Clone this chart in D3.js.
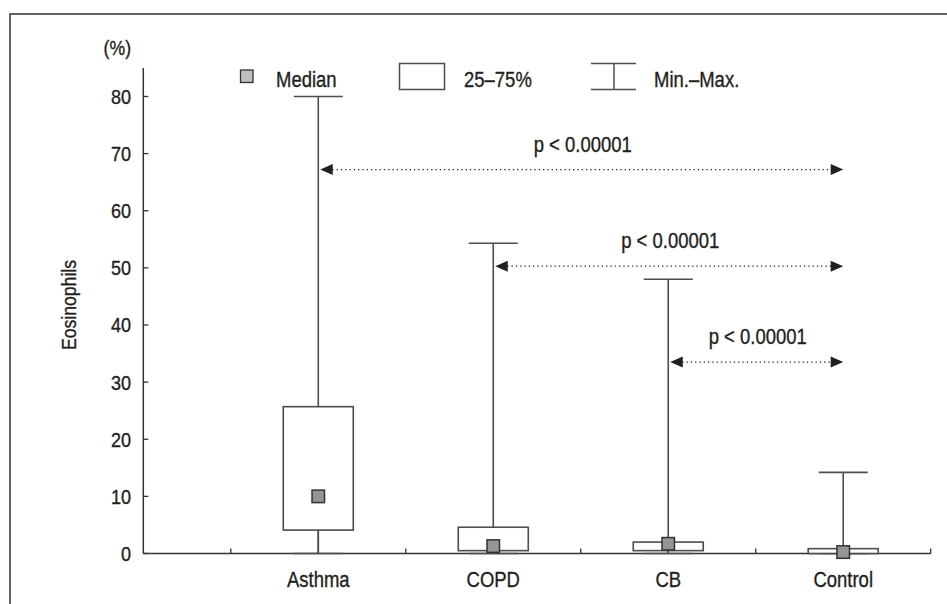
<!DOCTYPE html>
<html><head><meta charset="utf-8">
<script src="https://cdn.jsdelivr.net/npm/d3@7"></script>
<style>
html,body{margin:0;padding:0;background:#fff;}
text{font-family:"Liberation Sans Narrow","Liberation Sans",Arial,sans-serif;fill:#231f20;stroke:#231f20;stroke-width:0.35px;}
</style></head>
<body><svg id="c" width="947" height="604"></svg>
<script>
const categories = ["Asthma","COPD","CB","Control"];
const minVals    = [0, 0, 0, 0];
const q1Vals     = [4.1, 0.5, 0.5, 0];
const medianVals = [10.0, 1.3, 1.7, 0.25];
const q3Vals     = [25.7, 4.6, 2.0, 0.85];
const maxVals    = [80, 54.3, 48, 14.2];
const yTicks     = [0,10,20,30,40,50,60,70,80];
const comparisons = [
  {from:"Asthma", to:"Control", y:67.2, label:"p < 0.00001"},
  {from:"COPD",   to:"Control", y:50.3, label:"p < 0.00001"},
  {from:"CB",     to:"Control", y:33.5, label:"p < 0.00001"}
];
const legendLabels = ["Median","25–75%","Min.–Max."];

const svg = d3.select("#c");
const FS = 21.5, SX = 0.86;
const lineCol = "#4d4d4f", axisCol = "#333";

function txt(parent, x, y, s, anchor, size, rot){
  return parent.append("text")
    .attr("transform", `translate(${x},${y})` + (rot ? ` rotate(${rot})` : "") + ` scale(${SX},1)`)
    .attr("text-anchor", anchor || "start")
    .attr("font-size", size || FS)
    .text(s);
}

// frame
svg.append("rect").attr("x",10).attr("y",14).attr("width",960).attr("height",620)
  .attr("fill","none").attr("stroke",axisCol).attr("stroke-width",1.5);

const y = d3.scaleLinear().domain([0,85]).range([553.5, 67.9]);
const x = d3.scaleLinear().domain([0,4.5]).range([143.3, 930.7]);
const cx = c => x(categories.indexOf(c)+1);

// y axis
const ya = svg.append("g");
ya.append("line").attr("x1",x(0)).attr("x2",x(0)).attr("y1",y(0)).attr("y2",y(85))
  .attr("stroke",axisCol).attr("stroke-width",1.5);
yTicks.forEach(t=>{
  ya.append("line").attr("x1",x(0)).attr("x2",x(0)+5).attr("y1",y(t)).attr("y2",y(t))
    .attr("stroke",axisCol).attr("stroke-width",1.3);
  txt(ya, 131, y(t)+7.5, t, "end", 21);
});
txt(svg, 131, 55, "(%)", "end", 20.5);
txt(svg, 76, 305, "Eosinophils", "middle", 20.5, -90);

// x axis
const xa = svg.append("g");
xa.append("line").attr("x1",x(0)).attr("x2",x(4.5)).attr("y1",y(0)).attr("y2",y(0))
  .attr("stroke",axisCol).attr("stroke-width",1.5);
[0.5,1.5,2.5,3.5,4.5].forEach(t=>{
  xa.append("line").attr("x1",x(t)).attr("x2",x(t)).attr("y1",y(0)).attr("y2",y(0)-5)
    .attr("stroke",axisCol).attr("stroke-width",1.3);
});
categories.forEach(c=>{ txt(xa, cx(c), 587, c, "middle"); });

// boxes
const boxW = 70, capW = 49, medS = 12.5;
categories.forEach((c,i)=>{
  const g = svg.append("g");
  const X = cx(c);
  g.append("line").attr("x1",X).attr("x2",X).attr("y1",y(maxVals[i])).attr("y2",y(minVals[i]))
    .attr("stroke",lineCol).attr("stroke-width",1.6);
  g.append("line").attr("x1",X-capW/2).attr("x2",X+capW/2).attr("y1",y(maxVals[i])).attr("y2",y(maxVals[i]))
    .attr("stroke",lineCol).attr("stroke-width",1.6);
  g.append("line").attr("x1",X-capW/2).attr("x2",X+capW/2).attr("y1",y(minVals[i])).attr("y2",y(minVals[i]))
    .attr("stroke",lineCol).attr("stroke-width",1.6);
  g.append("rect").attr("x",X-boxW/2).attr("y",y(q3Vals[i])).attr("width",boxW)
    .attr("height",Math.max(0,y(q1Vals[i])-y(q3Vals[i])))
    .attr("fill","#fff").attr("stroke",lineCol).attr("stroke-width",1.6);
  g.append("line").attr("x1",X).attr("x2",X).attr("y1",y(q1Vals[i])).attr("y2",y(minVals[i]))
    .attr("stroke",lineCol).attr("stroke-width",1.6);
  g.append("rect").attr("x",X-medS/2).attr("y",y(medianVals[i])-medS/2).attr("width",medS).attr("height",medS)
    .attr("fill","#939598").attr("stroke","#333").attr("stroke-width",1.5);
});

// comparisons
comparisons.forEach(d=>{
  const x1 = cx(d.from)+2, x2 = cx(d.to), yy = y(d.y);
  const g = svg.append("g");
  g.append("line").attr("x1",x1+12).attr("x2",x2-12).attr("y1",yy).attr("y2",yy)
    .attr("stroke","#231f20").attr("stroke-width",1.3).attr("stroke-dasharray","1.3,3");
  g.append("path").attr("d",`M${x1},${yy}L${x1+12.5},${yy-5.5}L${x1+12.5},${yy+5.5}Z`).attr("fill","#231f20");
  g.append("path").attr("d",`M${x2},${yy}L${x2-12.5},${yy-5.5}L${x2-12.5},${yy+5.5}Z`).attr("fill","#231f20");
  txt(g, (cx(d.from)+cx(d.to))/2+2, yy-18, d.label, "middle");
});

// legend
const lg = svg.append("g");
lg.append("rect").attr("x",240.5).attr("y",70).attr("width",12.5).attr("height",12.5)
  .attr("fill","#bcbec0").attr("stroke","#333").attr("stroke-width",1.3);
txt(lg, 276, 87, legendLabels[0]);
lg.append("rect").attr("x",399.5).attr("y",63.5).attr("width",45).attr("height",26)
  .attr("fill","#fff").attr("stroke",lineCol).attr("stroke-width",1.5);
txt(lg, 464, 87, legendLabels[1]);
lg.append("line").attr("x1",591).attr("x2",636).attr("y1",63.5).attr("y2",63.5).attr("stroke",lineCol).attr("stroke-width",1.5);
lg.append("line").attr("x1",591).attr("x2",636).attr("y1",89.5).attr("y2",89.5).attr("stroke",lineCol).attr("stroke-width",1.5);
lg.append("line").attr("x1",614).attr("x2",614).attr("y1",63.5).attr("y2",89.5).attr("stroke",lineCol).attr("stroke-width",1.5);
txt(lg, 654, 87, legendLabels[2]);
</script></body></html>
